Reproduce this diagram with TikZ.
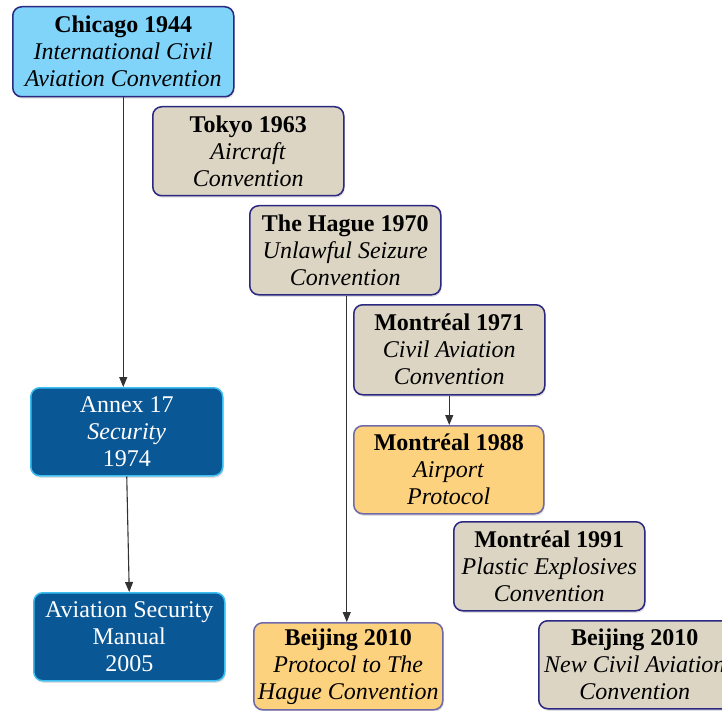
\documentclass[tikz,border=0pt]{standalone}
\usepackage{fontspec}
\setmainfont{Liberation Serif}
\usetikzlibrary{arrows.meta,shadows}

\definecolor{skyfill}{RGB}{128,212,250}
\definecolor{sandfill}{RGB}{220,213,195}
\definecolor{amberfill}{RGB}{253,210,126}
\definecolor{navyfill}{RGB}{10,87,150}
\definecolor{inkborder}{RGB}{43,40,130}
\definecolor{softborder}{RGB}{110,105,168}
\definecolor{cyanborder}{RGB}{60,190,240}
\definecolor{linkgray}{RGB}{50,50,50}

\tikzset{
  treaty/.style={rectangle, rounded corners=9pt, line width=1.5pt,
    anchor=north west, inner sep=0pt, align=center,
    font=\fontsize{24}{27}\selectfont, text=black,
    drop shadow={opacity=0.25, shadow xshift=1pt, shadow yshift=-2pt}},
  origin/.style={treaty, fill=skyfill, draw=inkborder},
  signed/.style={treaty, fill=sandfill, draw=inkborder},
  protocol/.style={treaty, fill=amberfill, draw=softborder},
  annexbox/.style={treaty, fill=navyfill, draw=cyanborder, text=white},
  link/.style={draw=linkgray, line width=1.1pt,
    -{Triangle[length=10pt,width=8pt]}}
}

\begin{document}
\begin{tikzpicture}[x=1pt,y=-1pt]
  \useasboundingbox (0,0) rectangle (722,711);
  \clip (0,0) rectangle (722,711);

  \node[origin, minimum width=221pt, minimum height=90pt] (chicago) at (12,6)
    {\textbf{Chicago 1944}\\\textit{International Civil}\\\textit{Aviation Convention}};
  \node[signed, minimum width=191pt, minimum height=89pt] (tokyo) at (152,106)
    {\textbf{Tokyo 1963}\\\textit{Aircraft}\\\textit{Convention}};
  \node[signed, minimum width=191pt, minimum height=89pt] (hague) at (249,205)
    {\textbf{The Hague 1970}\\\textit{Unlawful Seizure}\\\textit{Convention}};
  \node[signed, minimum width=191pt, minimum height=90pt] (mtl71) at (353,304)
    {\textbf{Montréal 1971}\\\textit{Civil Aviation}\\\textit{Convention}};
  \node[protocol, minimum width=190pt, minimum height=88pt] (mtl88) at (353,425)
    {\textbf{Montréal 1988}\\\textit{Airport}\\\textit{Protocol}};
  \node[signed, minimum width=191pt, minimum height=89pt] (mtl91) at (453,521)
    {\textbf{Montréal 1991}\\\textit{Plastic Explosives}\\\textit{Convention}};
  \node[protocol, minimum width=189pt, minimum height=87pt] (bjprot) at (253,622)
    {\textbf{Beijing 2010}\\\textit{Protocol to The}\\\textit{Hague Convention}};
  \node[signed, minimum width=192pt, minimum height=88pt] (bjnew) at (538,620)
    {\textbf{Beijing 2010}\\\textit{New Civil Aviation}\\\textit{Convention}};
  \node[annexbox, minimum width=192pt, minimum height=88pt] (annex) at (30,387)
    {Annex 17\\\textit{Security}\\1974};
  \node[annexbox, minimum width=191pt, minimum height=88pt] (manual) at (33,592)
    {Aviation Security\\Manual\\2005};

  \draw[link] (chicago.south) -- (chicago.south |- annex.north);
  \draw[link] (annex.south) -- (manual.north);
  \draw[link] ([xshift=1.5pt]hague.south) -- ([xshift=-1.5pt]bjprot.north);
  \draw[link] (mtl71.south) -- (mtl71.south |- mtl88.north);
\end{tikzpicture}
\end{document}
